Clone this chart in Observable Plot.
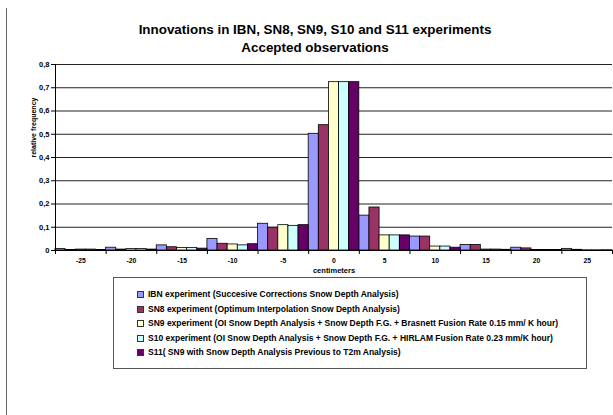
<!DOCTYPE html>
<html><head><meta charset="utf-8">
<script src="https://cdn.jsdelivr.net/npm/d3@7"></script>
<script src="https://cdn.jsdelivr.net/npm/@observablehq/plot@0.6"></script>
<style>
html,body{margin:0;padding:0;background:#fff;}
#wrap{position:relative;width:613px;height:415px;overflow:hidden;background:#fff;font-family:"Liberation Sans",Arial,sans-serif;}
#frame{position:absolute;left:6px;top:8px;width:1px;bottom:0;background:#666;}
#chart{position:absolute;left:0;top:0;}
#title{position:absolute;left:0;width:630px;top:21px;text-align:center;font-weight:bold;font-size:13.4px;line-height:18px;color:#000;}
#legend{position:absolute;left:113px;top:277px;width:472px;height:90px;border:1px solid #555;background:#fff;}
.row{position:absolute;left:0;height:14px;line-height:14px;font-size:8.5px;font-weight:bold;color:#000;white-space:nowrap;}
.sw{position:absolute;left:23px;top:4px;width:5px;height:5px;border:1px solid #333;}
.lt{position:absolute;left:34px;top:0;}
</style></head>
<body>
<div id="wrap">
  <div id="frame"></div>
  <div id="chart"></div>
  <div id="title"></div>
  <div id="legend"></div>
</div>
<script>
// ---- data ----
const bins = [-25, -20, -15, -10, -5, 0, 5, 10, 15, 20, 25];
const seriesNames = ["IBN", "SN8", "SN9", "S10", "S11"];
const seriesLabels = [
  "IBN experiment (Succesive Corrections Snow Depth Analysis)",
  "SN8 experiment (Optimum Interpolation Snow Depth Analysis)",
  "SN9 experiment (OI Snow Depth Analysis + Snow Depth F.G. + Brasnett Fusion Rate 0.15 mm/ K hour)",
  "S10 experiment (OI Snow Depth Analysis + Snow Depth F.G. + HIRLAM Fusion Rate 0.23 mm/K hour)",
  "S11( SN9 with Snow Depth Analysis Previous to T2m Analysis)"
];
const seriesColors = ["#9999FF", "#993366", "#FFFFCC", "#CCFFFF", "#660066"];
const ibn = [0.006, 0.012, 0.022, 0.050, 0.115, 0.502, 0.150, 0.060, 0.024, 0.012, 0.007];
const sn8 = [0.002, 0.004, 0.014, 0.029, 0.098, 0.539, 0.185, 0.060, 0.024, 0.009, 0.003];
const sn9 = [0.004, 0.006, 0.011, 0.026, 0.109, 0.724, 0.065, 0.017, 0.004, 0.002, 0.001];
const s10 = [0.004, 0.006, 0.011, 0.022, 0.106, 0.724, 0.065, 0.017, 0.004, 0.002, 0.001];
const s11 = [0.002, 0.004, 0.008, 0.027, 0.109, 0.724, 0.065, 0.012, 0.003, 0.002, 0.001];
const yTicks = [0, 0.1, 0.2, 0.3, 0.4, 0.5, 0.6, 0.7, 0.8];
const title = "Innovations in IBN, SN8, SN9, S10 and S11 experiments";
const subtitle = "Accepted observations";
const xLabel = "centimeters";
const yLabel = "relative frequency";

// ---- build table ----
const seriesValues = [ibn, sn8, sn9, s10, s11];
const binWidth = 5;
const n = seriesNames.length;
const rows = [];
seriesValues.forEach((vals, k) => vals.forEach((v, j) => rows.push({bin: bins[j], k, series: seriesNames[k], value: v})));
const edges = bins.map(b => b - binWidth / 2).concat([bins[bins.length - 1] + binWidth / 2]);
const yFmt = v => v === 0 ? "0" : d3.format(".1f")(v).replace(".", ",");

const chart = Plot.plot({
  width: 613, height: 280,
  marginTop: 64, marginBottom: 30, marginLeft: 55, marginRight: 1,
  style: {fontFamily: "'Liberation Sans', Arial, sans-serif", fontWeight: "bold", fontSize: "7px", background: "transparent", overflow: "visible"},
  x: {domain: [edges[0], edges[edges.length - 1]]},
  y: {domain: [0, 0.8]},
  color: {domain: seriesNames, range: seriesColors},
  marks: [
    Plot.ruleY(yTicks.slice(1), {stroke: "#222", strokeWidth: 1}),
    Plot.rectY(rows, {
      x1: d => d.bin - binWidth / 2 + d.k * binWidth / n,
      x2: d => d.bin - binWidth / 2 + (d.k + 1) * binWidth / n,
      y: "value", fill: "series", stroke: "#000", strokeWidth: 0.8
    }),
    Plot.ruleY([0], {stroke: "#000"}),
    Plot.ruleX([edges[0]], {y1: 0, y2: 0.8, stroke: "#000"}),
    Plot.axisY({ticks: yTicks, tickSize: 4, tickPadding: 2, tickFormat: yFmt, label: null, fontSize: 7.5}),
    Plot.axisX({ticks: edges, tickSize: 4, tickFormat: () => "", label: null}),
    Plot.axisX({ticks: bins, tickSize: 0, tickPadding: 8, tickFormat: d => String(d), label: null, fontSize: 6.8}),
    Plot.text([xLabel], {text: d => d, frameAnchor: "bottom", dy: 22, fontSize: 7.5, fontWeight: "bold"}),
    Plot.text([yLabel], {text: d => d, frameAnchor: "left", dx: -22, rotate: -90, fontSize: 7, fontWeight: "bold"})
  ]
});
document.getElementById("chart").appendChild(chart);
document.getElementById("title").innerHTML = title + "<br>" + subtitle;

const legend = document.getElementById("legend");
seriesLabels.forEach((lab, i) => {
  const row = document.createElement("div");
  row.className = "row";
  row.style.top = (9 + 14.5 * i) + "px";
  row.innerHTML = `<span class="sw" style="background:${seriesColors[i]}"></span><span class="lt"></span>`;
  row.querySelector(".lt").textContent = lab;
  legend.appendChild(row);
});
</script>
</body></html>
